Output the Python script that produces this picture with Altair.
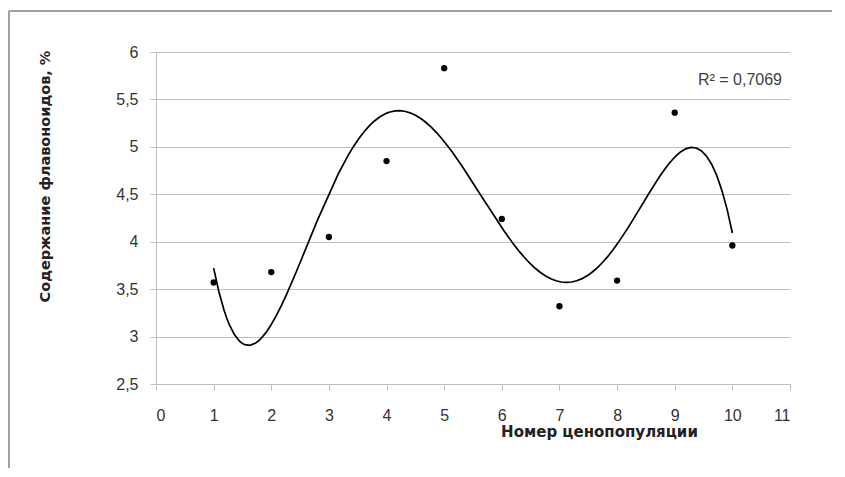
import altair as alt
import pandas as pd

populations = [1, 2, 3, 4, 5, 6, 7, 8, 9, 10]
flavonoids = [3.57, 3.68, 4.05, 4.85, 5.83, 4.24, 3.32, 3.59, 5.36, 3.96]
x_ticks = list(range(0, 12))
y_ticks = [2.5, 3, 3.5, 4, 4.5, 5, 5.5, 6]
r2_label = "R² = 0,7069"

df = pd.DataFrame({"x": populations, "y": flavonoids})

FONT = "Liberation Sans"
TFONT = "DejaVu Sans"
GRID = "#bfbfbf"

x_enc = alt.X(
    "x:Q",
    scale=alt.Scale(domain=[0, 11], nice=False, zero=False),
    axis=alt.Axis(
        values=x_ticks, grid=False, title="Номер ценопопуляции", format="d",
        domainColor=GRID, tickColor=GRID, tickSize=6,
        labelFont=FONT, labelFontSize=16, labelColor="#333333", labelPadding=17,
        titleFont=TFONT, titleFontSize=15, titleFontWeight="bold", titleColor="#222222",
        titleX=443, titleY=40, titleAnchor="start", titleAlign="center",
    ),
)
y_enc = alt.Y(
    "y:Q",
    scale=alt.Scale(domain=[2.5, 6], nice=False, zero=False),
    axis=alt.Axis(
        values=y_ticks, grid=True, gridColor=GRID, title="Содержание флавоноидов, %",
        format="~g", labelExpr="replace(datum.label, '.', ',')",
        domainColor=GRID, tickColor=GRID, tickSize=6,
        labelFont=FONT, labelFontSize=16, labelColor="#333333", labelPadding=12,
        titleFont=TFONT, titleFontSize=14.5, titleFontWeight="bold", titleColor="#222222",
        titleX=-104, titleY=124, titleAnchor="start", titleAlign="center",
        titleBaseline="bottom",
    ),
)

points = alt.Chart(df).mark_circle(color="black", opacity=1, size=40).encode(x=x_enc, y=y_enc)

trend = (
    alt.Chart(df)
    .transform_regression("x", "y", method="poly", order=5, extent=[1, 10])
    .mark_line(color="black", strokeWidth=1.7)
    .encode(x="x:Q", y="y:Q")
)

label = (
    alt.Chart(pd.DataFrame({"t": [r2_label]}))
    .mark_text(font=FONT, fontSize=16, color="#404040", align="right", baseline="middle")
    .encode(text="t:N", x=alt.value(626), y=alt.value(28))
)

one = pd.DataFrame({"a": [0]})
frame_left = (
    alt.Chart(one)
    .mark_rule(color="#a0a0a0", strokeWidth=2)
    .encode(x=alt.value(-147), y=alt.value(-41), y2=alt.value(416))
)
frame_top = (
    alt.Chart(one)
    .mark_rule(color="#a0a0a0", strokeWidth=2)
    .encode(x=alt.value(-147), x2=alt.value(676), y=alt.value(-41))
)

chart = (
    alt.layer(frame_left, frame_top, points, trend, label)
    .properties(
        width=634, height=332,
        autosize=alt.AutoSizeParams(type="none"),
        padding={"left": 148, "top": 44, "right": 45, "bottom": 85},
    )
    .configure_view(stroke=None)
)

chart.save("out.html", embed_options={"renderer": "svg", "actions": False})
